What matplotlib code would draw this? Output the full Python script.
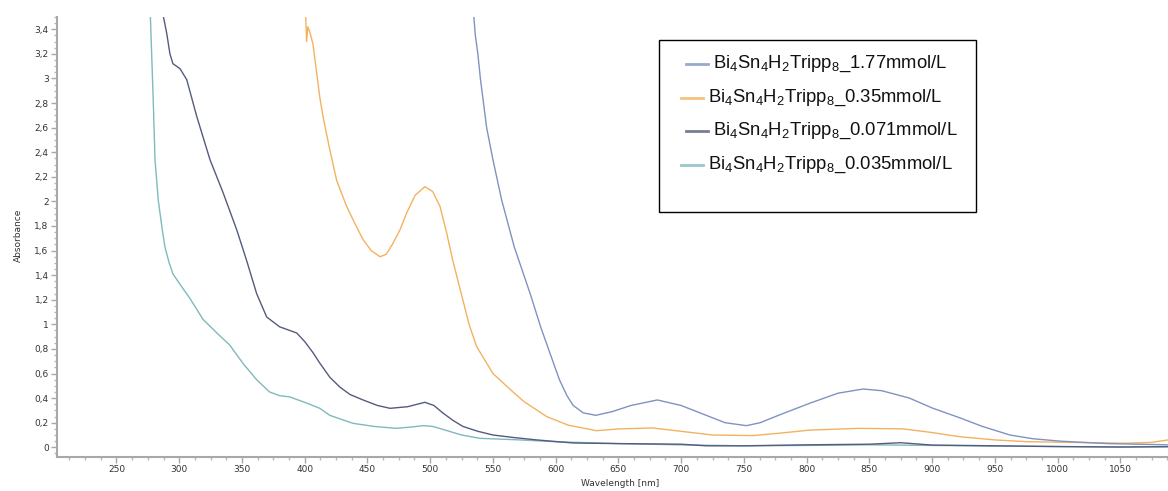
import matplotlib
matplotlib.use("Agg")
import matplotlib.pyplot as plt
from matplotlib.ticker import MultipleLocator, FuncFormatter
from matplotlib.patches import Rectangle
from matplotlib.lines import Line2D

plt.rcParams['mathtext.fontset'] = 'custom'
plt.rcParams['mathtext.rm'] = 'Liberation Sans'
plt.rcParams['mathtext.it'] = 'Liberation Sans:italic'
plt.rcParams['mathtext.bf'] = 'Liberation Sans:bold'
plt.rcParams['mathtext.default'] = 'regular'

# ---- data ----
wl_177 = [534, 536, 538, 540, 545, 550, 557, 567, 572, 580, 588, 596, 603, 609, 614, 622,
          632, 645, 660, 681, 700, 715, 735, 752, 763, 780, 803, 825, 845, 860, 882, 900,
          922, 940, 962, 980, 1002, 1040, 1088]
ab_177 = [3.6, 3.35, 3.2, 3.0, 2.6, 2.34, 2.01, 1.63, 1.48, 1.24, 0.98, 0.75, 0.55, 0.42, 0.34, 0.28,
          0.26, 0.29, 0.34, 0.385, 0.34, 0.28, 0.20, 0.176, 0.20, 0.27, 0.36, 0.44, 0.474, 0.46, 0.40, 0.32,
          0.24, 0.17, 0.10, 0.07, 0.05, 0.03, 0.02]

wl_035 = [400.5, 401.5, 402.5, 404, 406.6, 412, 414.6, 420, 425.5, 433.4, 440, 446.5, 453, 460,
          465, 470.4, 476, 481, 488, 495.8, 502, 507.8, 513, 518, 526, 531, 537, 550, 566, 575,
          592.8, 610, 632.6, 651, 677.5, 700, 725, 757, 778.7, 802.6, 842, 876.7, 900, 922, 950,
          975, 1020, 1055, 1075, 1088]
ab_035 = [3.6, 3.3, 3.42, 3.38, 3.28, 2.85, 2.69, 2.42, 2.17, 1.96, 1.82, 1.69, 1.60, 1.55,
          1.57, 1.66, 1.77, 1.90, 2.05, 2.12, 2.08, 1.96, 1.75, 1.52, 1.20, 1.0, 0.82, 0.60, 0.45, 0.37,
          0.25, 0.18, 0.135, 0.15, 0.157, 0.13, 0.10, 0.095, 0.115, 0.14, 0.154, 0.15, 0.12, 0.086, 0.06,
          0.046, 0.038, 0.033, 0.04, 0.06]

wl_0071 = [285.5, 290, 292.6, 295, 300.6, 306, 314, 324.5, 335, 345.8, 353.7, 361.7, 369.7, 380,
           393.6, 400, 406.6, 412, 420, 428, 436, 446.5, 458, 468, 482, 495.8, 503, 510, 518, 526,
           538, 550, 566, 584.8, 614, 650, 700, 720, 750, 800, 850, 875, 900, 950, 1000, 1050, 1088]
ab_0071 = [3.6, 3.37, 3.2, 3.12, 3.08, 2.99, 2.69, 2.34, 2.07, 1.77, 1.52, 1.25, 1.06, 0.98,
           0.93, 0.86, 0.77, 0.685, 0.57, 0.49, 0.43, 0.385, 0.34, 0.317, 0.33, 0.366, 0.34, 0.28, 0.22, 0.17,
           0.13, 0.10, 0.08, 0.06, 0.035, 0.03, 0.025, 0.012, 0.012, 0.02, 0.025, 0.037, 0.018, 0.012, 0.006, 0.002, 0.005]

wl_0035 = [276.7, 279.3, 280.7, 283.3, 286.5, 288.6, 292, 295, 301, 308.6, 319, 330, 340.4, 351,
           361.7, 372, 380, 388, 401.5, 412, 420, 438.5, 455, 473, 485, 494.5, 502, 510, 525, 539.6,
           571.5, 600, 650, 700, 750, 800, 850, 900, 950, 1000, 1050, 1088]
ab_0035 = [3.6, 2.82, 2.34, 2.01, 1.77, 1.63, 1.50, 1.41, 1.32, 1.21, 1.04, 0.93, 0.83, 0.68,
           0.55, 0.45, 0.42, 0.41, 0.36, 0.317, 0.26, 0.195, 0.17, 0.154, 0.165, 0.176, 0.17, 0.146, 0.10, 0.073,
           0.06, 0.045, 0.03, 0.02, 0.012, 0.015, 0.02, 0.015, 0.01, 0.006, 0.003, 0.005]

labels = [r'Bi$_4$Sn$_4$H$_2$Tripp$_8$_1.77mmol/L',
          r'Bi$_4$Sn$_4$H$_2$Tripp$_8$_0.35mmol/L',
          r'Bi$_4$Sn$_4$H$_2$Tripp$_8$_0.071mmol/L',
          r'Bi$_4$Sn$_4$H$_2$Tripp$_8$_0.035mmol/L']
colors = ['#7f93c2', '#f3b260', '#555b7c', '#80b9bd']

x_major = [250, 300, 350, 400, 450, 500, 550, 600, 650, 700, 750, 800, 850, 900, 950, 1000, 1050]
y_major = [0, 0.2, 0.4, 0.6, 0.8, 1, 1.2, 1.4, 1.6, 1.8, 2, 2.2, 2.4, 2.6, 2.8, 3, 3.2, 3.4]

# ---- figure ----
fig = plt.figure(figsize=(11.68, 4.91), dpi=100)
ax = fig.add_axes([57/1168, 1 - 457/491, 1 - 57/1168, 440/491])

series = [(wl_0035, ab_0035), (wl_0071, ab_0071), (wl_035, ab_035), (wl_177, ab_177)]
cols = [colors[3], colors[2], colors[1], colors[0]]
for (wl, ab), c in zip(series, cols):
    ax.plot(wl, ab, color=c, lw=1.0, solid_joinstyle='round')

ax.set_xlim(202.6, 1088)
ax.set_ylim(-0.079, 3.5)

for s in ['top', 'right']:
    ax.spines[s].set_visible(False)
for s in ['left', 'bottom']:
    ax.spines[s].set_color('#a8a8a8')
    ax.spines[s].set_linewidth(1.5)

ax.set_xticks(x_major)
ax.set_yticks(y_major)
ax.xaxis.set_minor_locator(MultipleLocator(12.5))
ax.yaxis.set_minor_locator(MultipleLocator(0.05))
ax.yaxis.set_major_formatter(FuncFormatter(lambda v, p: ('%g' % round(v, 2)).replace('.', ',')))
ax.tick_params(axis='both', which='major', length=4, width=1, color='#a8a8a8',
               labelsize=6.5, labelcolor='#333333', direction='out', pad=2)
ax.tick_params(axis='both', which='minor', length=2.5, width=1, color='#b8b8b8', direction='out')

fig.text(18/1168, 1 - 235/491, 'Absorbance', rotation=90, ha='center', va='center',
         fontsize=6.5, color='#333333')
fig.text(620/1168, 1 - 483/491, 'Wavelength [nm]', ha='center', va='center',
         fontsize=6.5, color='#333333')

# ---- legend box (drawn manually to match layout) ----
fig.patches.append(Rectangle((659/1168, 1 - 212/491), (976-659)/1168, (212-40)/491,
                             transform=fig.transFigure, fill=True, facecolor='white',
                             edgecolor='black', lw=1.0, zorder=5))
ys = [64, 98, 131, 165]
xt = [713, 708, 713, 708]
for lab, c, yy, xx in zip(labels, colors, ys, xt):
    fig.lines.append(Line2D([(xx-27)/1168, (xx-5)/1168], [1 - yy/491]*2,
                            transform=fig.transFigure, color=c, lw=2, alpha=0.8, zorder=6))
    fig.text(xx/1168, 1 - yy/491, lab, ha='left', va='center', fontsize=13.3,
             family='Liberation Sans', color='#111111', zorder=7)

fig.savefig('out.png', dpi=100)
